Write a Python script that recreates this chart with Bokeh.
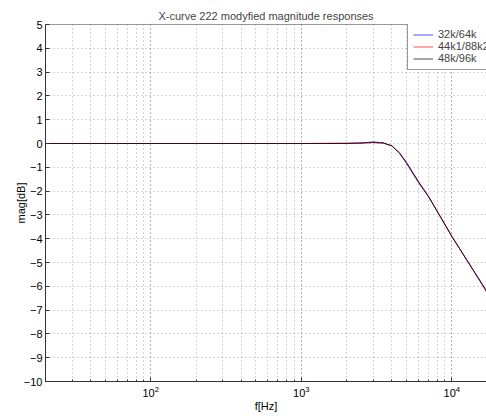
from bokeh.plotting import figure
from bokeh.models import Range1d, FixedTicker, Legend, LegendItem, Span
from bokeh.embed import file_html
from bokeh.resources import INLINE

# ---- data ----
freq_hz = [20, 100, 1000, 2000, 2500, 3000, 3500, 4000, 4500, 5000, 6000, 7000,
           8000, 10000, 12500, 16000, 17000]
mag_32k = [0, 0, 0, 0, 0.02, 0.07, 0.03, -0.1, -0.42, -0.84, -1.64, -2.24,
           -2.85, -3.9, -4.87, -5.93, -6.2]
mag_44k1 = [0, 0, 0, 0.02, 0.02, 0.04, 0.02, -0.1, -0.4, -0.8, -1.6, -2.22,
            -2.85, -3.9, -4.87, -5.97, -6.25]
mag_48k = [0, 0, 0, 0, 0.02, 0.04, 0.02, -0.1, -0.4, -0.8, -1.6, -2.22,
           -2.85, -3.9, -4.87, -5.93, -6.2]
series_names = ["32k/64k", "44k1/88k2", "48k/96k"]
series_colors = ["#0000ff", "#ff0000", "#000000"]
y_ticks = list(range(-10, 6))

FONT = "Liberation Sans"

p = figure(width=486, height=416, x_axis_type="log",
           x_range=Range1d(20, 17000), y_range=Range1d(-10, 5),
           output_backend="svg", toolbar_location=None,
           title="X-curve 222 modyfied magnitude responses",
           min_border_left=45, min_border_right=0, min_border_top=24,
           min_border_bottom=35)
p.outline_line_color = None
p.background_fill_color = "white"
p.border_fill_color = "white"

p.title.text_font = FONT
p.title.text_font_size = "11px"
p.title.text_font_style = "normal"
p.title.align = "center"
p.title.standoff = 6
p.title.offset = 5

# grids
for g in (p.xgrid, p.ygrid):
    g.grid_line_color = "#a8a8a8"
    g.grid_line_dash = "1 3"
    g.grid_line_width = 1
p.xgrid.minor_grid_line_color = "#a8a8a8"
p.xgrid.minor_grid_line_dash = "1 3"

p.yaxis.ticker = FixedTicker(ticks=y_ticks)

for ax in (p.xaxis, p.yaxis):
    ax.axis_line_color = "#333333"
    ax.major_tick_line_color = "#333333"
    ax.minor_tick_line_color = "#333333"
    ax.major_tick_in = 4
    ax.major_tick_out = 0
    ax.minor_tick_in = 2
    ax.minor_tick_out = 0
    ax.major_label_text_font = FONT
    ax.major_label_text_font_size = "11px"
    ax.major_label_text_color = "black"
    ax.axis_label_text_font = FONT
    ax.axis_label_text_font_size = "11px"
    ax.axis_label_text_font_style = "normal"
    ax.axis_label_text_color = "black"
p.yaxis.minor_tick_line_color = None
p.xaxis.major_label_standoff = 4
p.xaxis.axis_label_standoff = 0
p.yaxis.major_label_standoff = 3
p.yaxis.axis_label_standoff = -6
p.xaxis.axis_label = "f[Hz]"
p.yaxis.axis_label = "mag[dB]"

p.add_layout(Span(location=5, dimension="width", line_color="#333333", line_width=1))

renderers = []
for vals, color in zip([mag_32k, mag_44k1, mag_48k], series_colors):
    r = p.line(freq_hz, vals, line_color=color, line_width=0.7)
    renderers.append(r)

legend = Legend(items=[LegendItem(label=n, renderers=[r]) for n, r in zip(series_names, renderers)],
                location=(362, 311))
legend.label_text_font = FONT
legend.label_text_font_size = "11px"
legend.glyph_width = 20
legend.glyph_height = 11
legend.label_height = 11
legend.spacing = 0
legend.padding = 5
legend.margin = 0
legend.label_standoff = 5
legend.border_line_color = "#333333"
legend.border_line_width = 1
legend.background_fill_alpha = 1
p.add_layout(legend)

open("out.html", "w").write(file_html(p, INLINE))
